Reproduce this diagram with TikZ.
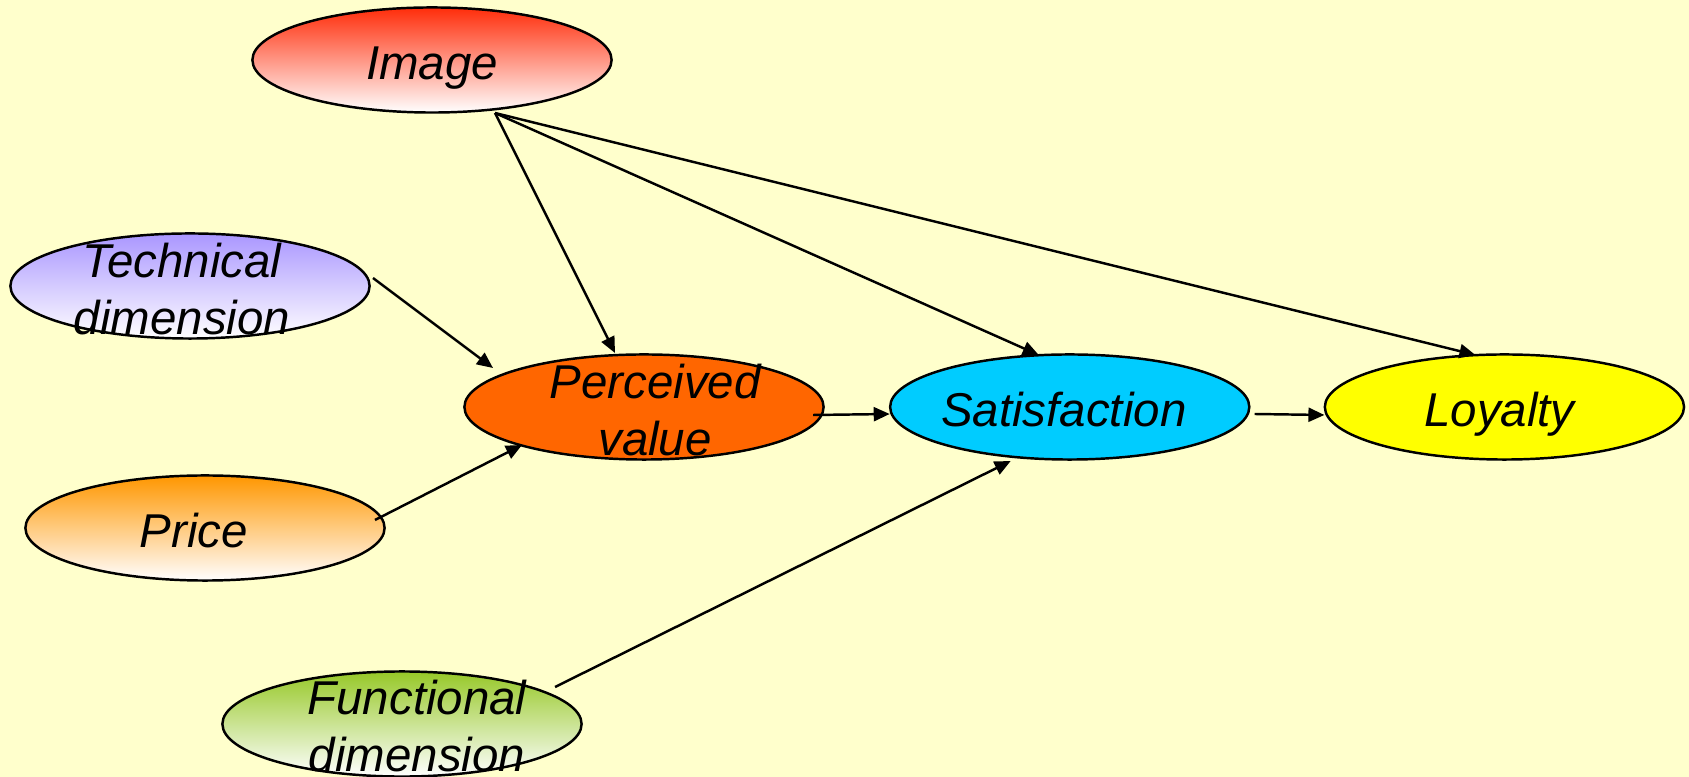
\documentclass[tikz,border=0pt]{standalone}
\usepackage{fontspec}
\setmainfont{Liberation Sans}
\usetikzlibrary{arrows.meta, positioning, calc, shapes.geometric}

\definecolor{paper}{HTML}{FFFFCC}
\definecolor{imgred}{RGB}{255,45,10}
\definecolor{techlilac}{RGB}{170,150,255}
\definecolor{priceorange}{RGB}{255,150,0}
\definecolor{funcgreen}{RGB}{150,200,40}
\definecolor{percorange}{HTML}{FF6600}
\definecolor{satcyan}{HTML}{00CCFF}
\definecolor{loyyellow}{HTML}{FFFF00}

\tikzset{
  bubble/.style = {draw, ellipse, line width=0.7pt, inner sep=0pt,
                   minimum width=3.59cm, minimum height=1.05cm},
  fade/.style   = {top color=#1, bottom color=white},
  txt/.style    = {font=\fontsize{13.5}{16.2}\selectfont\itshape, align=center},
  arr/.style    = {-{Triangle[length=0.16cm, width=0.14cm]}, line width=0.7pt},
  node distance = 0.64cm
}

\begin{document}
\begin{tikzpicture}[x=0.01cm, y=-0.01cm]

  % -- Background ------------------------------------------------------------
  \useasboundingbox (0,0) rectangle (1689,777);
  \fill[paper] (0,0) rectangle (1689,777);

  % -- Drivers (left column) -------------------------------------------------
  \node[bubble, fade=imgred,
        label={[txt, yshift=-0.08cm]center:Image}] (Img) at (432,60) {};
  \node[bubble, fade=techlilac,
        label={[txt, xshift=-0.08cm, yshift=-0.03cm]center:Technical\\dimension}] (Tech) at (190,286) {};
  \node[bubble, fade=priceorange,
        label={[txt, xshift=-0.11cm, yshift=-0.03cm]center:Price}] (Price) at (205,528) {};
  \node[bubble, fade=funcgreen,
        label={[txt, xshift=0.15cm, yshift=-0.02cm]center:Functional\\dimension}] (Func) at (402,724) {};

  % -- Main chain ------------------------------------------------------------
  \node[bubble, fill=percorange,
        label={[txt, xshift=0.11cm, yshift=-0.03cm]center:Perceived\\value}] (Perc) at (644,407) {};
  \node[bubble, fill=satcyan,
        label={[txt, xshift=-0.06cm, yshift=-0.03cm]center:Satisfaction},
        right=0.64cm of Perc] (Sat) {};
  \node[bubble, fill=loyyellow,
        label={[txt, xshift=-0.05cm, yshift=-0.07cm]center:Loyalty},
        right=0.73cm of Sat] (Loy) {};

  % -- Connections -----------------------------------------------------------

  % Image fans out
  \draw[arr] ($(Img)+(63,53)$) -- ($(Perc)+(-29,-54)$);
  \draw[arr] ($(Img)+(63,53)$) -- ($(Sat)+(-31,-52)$);
  \draw[arr] ($(Img)+(63,53)$) -- ($(Loy)+(-29,-52)$);

  % into perceived value
  \draw[arr] ($(Tech)+(183,-8)$)  -- ($(Perc)+(-151,-39)$);
  \draw[arr] ($(Price)+(170,-8)$) -- ($(Perc)+(-122,38)$);

  % along the chain
  \draw[arr] ($(Perc)+(169,8)$) -- ($(Sat)+(-180,7)$);
  \draw[arr] ($(Sat)+(185,7)$)  -- ($(Loy)+(-180,8)$);

  % functional dimension to satisfaction
  \draw[arr] ($(Func)+(153,-37)$) -- ($(Sat)+(-59,54)$);

\end{tikzpicture}
\end{document}
